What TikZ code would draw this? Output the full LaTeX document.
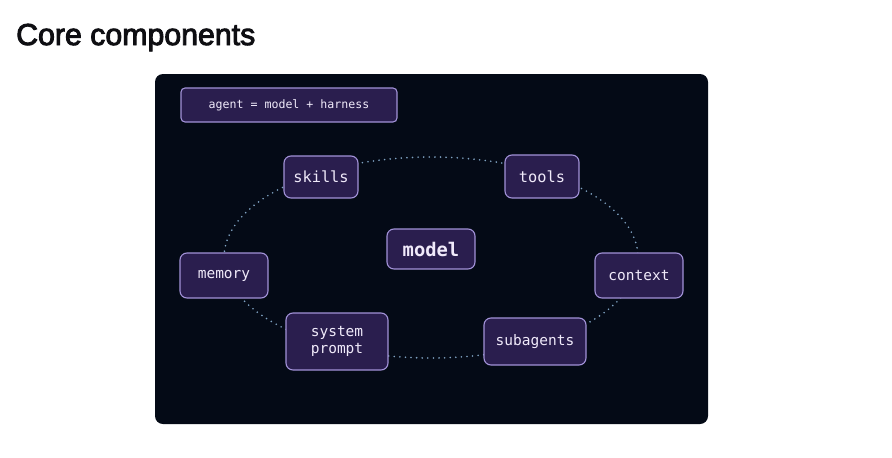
\documentclass[tikz,border=0pt]{standalone}
\usepackage{fontspec}
\setmainfont{Liberation Sans}
\setmonofont{DejaVu Sans Mono}
\newfontfamily\titlefont[FakeBold=3]{Liberation Sans}
\definecolor{panelbg}{HTML}{040A16}
\definecolor{boxfill}{HTML}{2A1E4E}
\definecolor{boxline}{HTML}{A292D8}
\definecolor{boxtext}{HTML}{F0EAFA}
\definecolor{ringcol}{HTML}{7FA2C2}
\definecolor{titlecol}{HTML}{0E0E12}
\tikzset{
  compbox/.style={draw=boxline, line width=1.1pt, fill=boxfill, rounded corners=7pt,
    text=boxtext, font=\ttfamily\fontsize{14.5}{17}\selectfont, align=center,
    inner sep=0pt, minimum width=88pt, minimum height=45pt},
  ring/.style={draw=ringcol, line width=1.8pt, line cap=round, dash pattern=on 0pt off 5.6pt},
}
\begin{document}
\begin{tikzpicture}[x=1pt,y=-1pt]
\useasboundingbox (0,0) rectangle (892,458);
\fill[white] (0,0) rectangle (892,458);
\node[anchor=base west, inner sep=0pt, text=titlecol, font=\titlefont\fontsize{30.3}{32}\selectfont] (title) at (16,45) {Core components};
\fill[panelbg, rounded corners=8pt] (155,74) rectangle (708,424);
\draw[ring] (431,257.5) ellipse [x radius=207, y radius=100.5];
\node[compbox, minimum width=216pt, minimum height=34pt, rounded corners=4pt, font=\ttfamily\fontsize{11.6}{14}\selectfont] (agent) at (289,105) {agent = model + harness};
\node[compbox, minimum width=74pt, minimum height=42pt, font=\ttfamily\fontsize{15.3}{18}\selectfont] (skills) at (321,177) {skills};
\node[compbox, minimum width=74pt, minimum height=43pt, font=\ttfamily\fontsize{15.3}{18}\selectfont] (tools) at (542,176.5) {tools};
\node[compbox, minimum width=88pt, minimum height=40pt, font=\ttfamily\bfseries\fontsize{18.8}{20}\selectfont] (model) at (431,249) {model};
\node[compbox] (memory) at (224,275.5) {\raisebox{-1pt}{memory}};
\node[compbox] (context) at (639,275.5) {context};
\node[compbox, minimum width=102pt, minimum height=57pt] (sysprompt) at (337,341.5) {system\\prompt};
\node[compbox, minimum width=102pt, minimum height=47pt] (subagents) at (535,341.5) {subagents};
\end{tikzpicture}
\end{document}
